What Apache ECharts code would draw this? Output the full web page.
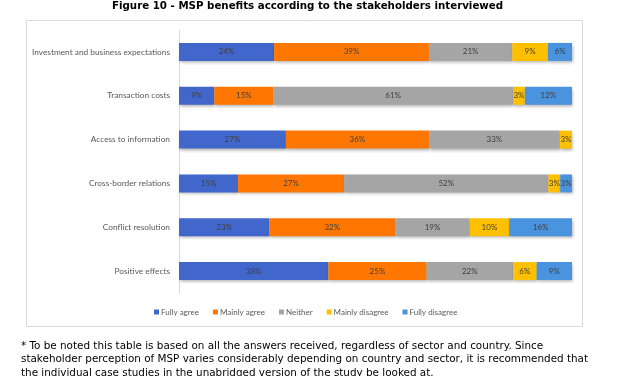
<!DOCTYPE html>
<html>
<head>
<meta charset="utf-8">
<script src="https://cdn.jsdelivr.net/npm/echarts@6/dist/echarts.min.js"></script>
<style>
  html, body { margin: 0; padding: 0; background: #fff; }
  #chart { width: 627px; height: 376px; }
</style>
</head>
<body>
<div id="chart"></div>
<script>
// categories, top to bottom
var categories = ['Investment and business expectations', 'Transaction costs', 'Access to information',
    'Cross-border relations', 'Conflict resolution', 'Positive effects'];

// shares in %
var fullyAgree = [24.2, 9, 27.2, 15, 23, 38];
var mainlyAgree = [39.4, 15, 36.4, 27, 32, 25];
var neither = [21.2, 61, 33.3, 52, 19, 22];
var mainlyDisagree = [9.1, 3, 3.1, 3, 10, 6];
var fullyDisagree = [6.1, 12, 0, 3, 16, 9];

var seriesNames = ['Fully agree', 'Mainly agree', 'Neither', 'Mainly disagree', 'Fully disagree'];
var seriesData = [fullyAgree, mainlyAgree, neither, mainlyDisagree, fullyDisagree];
var colors = ['#4166CC', '#FF7700', '#A5A5A5', '#FFC000', '#4A93DF'];

var note = [
    '* To be noted this table is based on all the answers received, regardless of sector and country. Since',
    'stakeholder perception of MSP varies considerably depending on country and sector, it is recommended that',
    'the individual case studies in the unabridged version of the study be looked at.'
];

var myChart = echarts.init(document.getElementById('chart'));

var series = seriesNames.map(function (name, i) {
    return {
        name: name,
        type: 'bar',
        stack: 'total',
        barWidth: 18,
        data: seriesData[i],
        itemStyle: {
            color: colors[i],
            shadowColor: 'rgba(0,0,0,0.3)',
            shadowBlur: 3,
            shadowOffsetX: 1,
            shadowOffsetY: 2
        },
        label: {
            show: true,
            position: 'inside',
            color: '#404040',
            fontSize: 8,
            fontFamily: 'Lato',
            formatter: function (p) {
                return p.value ? Math.round(p.value) + '%' : '';
            }
        }
    };
});

var option = {
    animation: false,
    color: colors,
    title: {
        text: 'Figure 10 - MSP benefits according to the stakeholders interviewed',
        left: 112,
        top: 1,
        padding: 0,
        textStyle: { fontFamily: 'DejaVu Sans', fontWeight: 'bold', fontSize: 10.25, color: '#000' }
    },
    grid: { left: 179, right: 55, top: 30, bottom: 83 },
    legend: {
        data: seriesNames,
        bottom: 55,
        left: 149,
        itemWidth: 5,
        itemHeight: 5,
        itemGap: 14,
        icon: 'rect',
        textStyle: { fontFamily: 'Lato', fontSize: 8, color: '#595959', padding: [0, 0, 0, -3] }
    },
    xAxis: {
        type: 'value',
        min: 0,
        max: 100,
        show: false
    },
    yAxis: {
        type: 'category',
        inverse: true,
        data: categories,
        axisLine: { show: true, lineStyle: { color: '#D9D9D9' } },
        axisTick: { show: false },
        axisLabel: { fontFamily: 'Lato', fontSize: 8.3, color: '#595959', margin: 9 }
    },
    graphic: [
        {
            type: 'rect',
            shape: { x: 26.5, y: 20.5, width: 556, height: 306 },
            style: { fill: 'none', stroke: '#D9D9D9', lineWidth: 1 },
            z: -1
        },
        {
            type: 'text',
            left: 21,
            top: 339,
            style: {
                text: note.join('\n'),
                fontFamily: 'DejaVu Sans',
                fontSize: 10.4,
                lineHeight: 13.8,
                fill: '#000'
            }
        }
    ],
    series: series
};

myChart.setOption(option);
</script>
</body>
</html>
